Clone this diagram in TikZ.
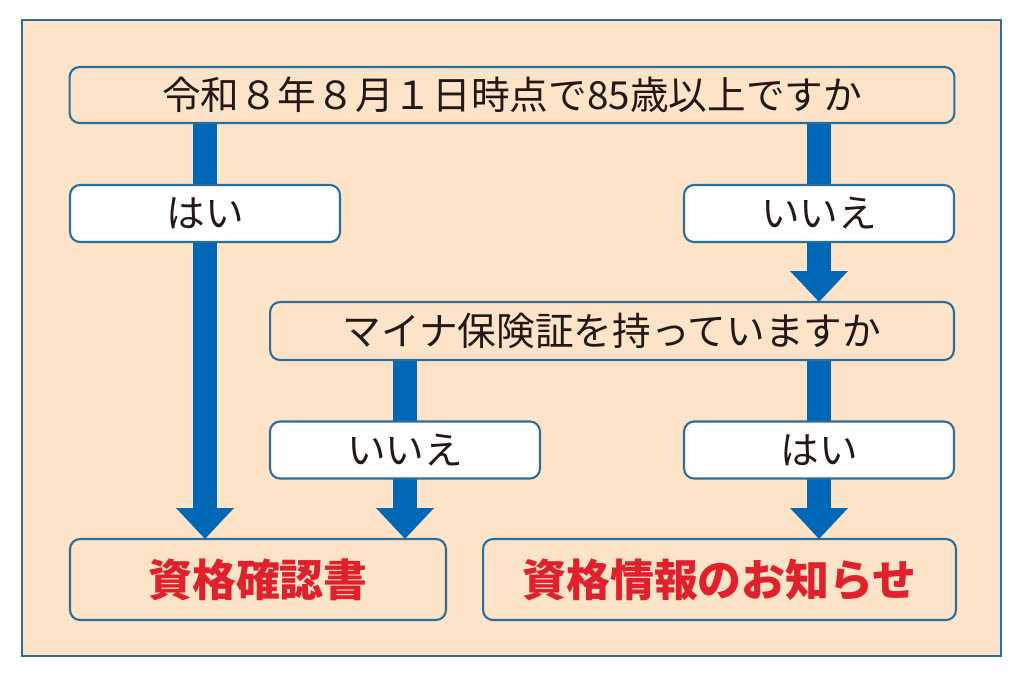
\documentclass[tikz,border=0pt]{standalone}
\usepackage{fontspec}
\setmainfont{Noto Sans CJK JP}
\usetikzlibrary{arrows.meta}
\definecolor{peach}{HTML}{FDE4C9}
\definecolor{frameblue}{HTML}{2B6E9C}
\definecolor{arrowblue}{HTML}{0068B7}
\definecolor{textred}{HTML}{E0202A}
\definecolor{textblack}{HTML}{231815}
\pgfdeclarelayer{bglayer}
\pgfdeclarelayer{arrowlayer}
\pgfsetlayers{bglayer,arrowlayer,main}
\tikzset{
  box/.style={draw=frameblue, line width=1.2pt, rounded corners=0.2cm, inner sep=0pt, outer sep=0pt,
    text=textblack, font=\fontsize{22}{25}\selectfont, align=center},
  qbox/.style={box, fill=peach},
  abox/.style={box, fill=white, minimum width=5.4cm, minimum height=1.14cm},
  rbox/.style={box, fill=peach, text=textred, font=\fontsize{25}{28}\selectfont\bfseries, minimum height=1.62cm},
  bigarrow/.style={draw=arrowblue, line width=0.48cm, -{Triangle[width=1.12cm,length=0.62cm]}}
}
\begin{document}
\begin{tikzpicture}[x=0.02cm,y=-0.02cm]
\useasboundingbox (0,0) rectangle (1016,676);
\begin{pgfonlayer}{bglayer}
\fill[white] (0,0) rectangle (1016,676);
\draw[frameblue, line width=1.2pt, fill=peach] (22,20) rectangle (1001,656);
\end{pgfonlayer}
\node[qbox, minimum width=17.7cm, minimum height=1.12cm] (q1) at (512,95) {令和８年８月１日時点で85歳以上ですか};
\node[abox] (yes1) at (205,213.5) {はい};
\node[abox] (no1) at (819,213.5) {いいえ};
\node[qbox, minimum width=13.68cm, minimum height=1.16cm] (q2) at (612,331) {マイナ保険証を持っていますか};
\node[abox] (no2) at (405,450) {いいえ};
\node[abox] (yes2) at (819,450) {はい};
\node[rbox, minimum width=7.52cm] (r1) at (258,579.5) {資格確認書};
\node[rbox, minimum width=9.46cm] (r2) at (719.5,579.5) {資格情報のお知らせ};
\begin{pgfonlayer}{arrowlayer}
\draw[bigarrow] (q1.south -| yes1.center) -- (r1.north -| yes1.center);
\draw[bigarrow] (q1.south -| no1.center) -- (q2.north -| no1.center);
\draw[bigarrow] (q2.south -| no2.center) -- (r1.north -| no2.center);
\draw[bigarrow] (q2.south -| yes2.center) -- (r2.north -| yes2.center);
\end{pgfonlayer}
\end{tikzpicture}
\end{document}
